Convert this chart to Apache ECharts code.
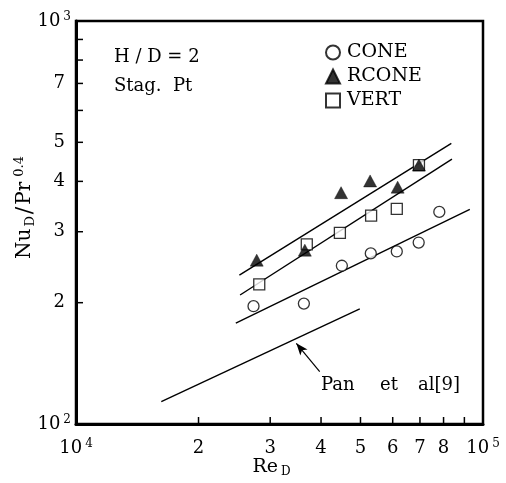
<!DOCTYPE html>
<html>
<head>
<meta charset="utf-8">
<script src="https://cdn.jsdelivr.net/npm/echarts@6/dist/echarts.min.js"></script>
<style>
  html, body { margin: 0; padding: 0; background: #fff; }
  #chart { width: 506px; height: 483px; }
</style>
</head>
<body>
<div id="chart"></div>
<script>
// Stagnation-point heat transfer, H/D = 2
const reCone  = [27300, 36300, 45000, 53000, 61400, 69500, 78100];
const nuCone  = [196, 199, 247, 265, 268, 282, 336];
const reRcone = [27800, 36500, 44800, 52800, 61700, 69600];
const nuRcone = [255, 270, 375, 401, 387, 439];
const reVert  = [28200, 36900, 44500, 53100, 61400, 69600];
const nuVert  = [222, 279, 298, 329, 342, 439];

// correlation lines (power laws, straight on log-log)
const reFitRcone = [25200, 83600];
const nuFitRcone = [234, 497];
const reFitVert  = [25300, 83900];
const nuFitVert  = [209, 454];
const reFitCone  = [24700, 92800];
const nuFitCone  = [178, 341];
const rePan      = [16200, 49800];
const nuPan      = [113.6, 193];

// arrow pointing at the Pan et al. line
const arrowRe = [39700, 34780];
const arrowNu = [134.8, 158.6];

// ticks and labelled values
const xTicks  = [20000, 30000, 40000, 50000, 60000, 70000, 80000, 90000];
const xLabels = [10000, 20000, 30000, 40000, 50000, 60000, 70000, 80000, 100000];
const yTicks  = [200, 300, 400, 500, 600, 700, 800, 900];
const yLabels = [100, 200, 300, 400, 500, 700, 1000];

const X_MIN = 10000, X_MAX = 100000, Y_MIN = 100, Y_MAX = 1000;
const FONT = 'DejaVu Serif';
const pairs = (xs, ys) => xs.map((x, i) => [x, ys[i]]);

function tickText(v, padRight) {
  const p = Math.log10(v);
  if (Math.abs(p - Math.round(p)) < 1e-9) {
    return '{n|10}{s|' + Math.round(p) + '}';
  }
  const lead = Math.round(v / Math.pow(10, Math.floor(p)));
  return padRight ? '{d|' + lead + '}' : '{n|' + lead + '}';
}

const labelRich = {
  n: { fontFamily: FONT, fontSize: 18, color: '#000', lineHeight: 20 },
  d: { fontFamily: FONT, fontSize: 18, color: '#000', lineHeight: 20, padding: [0, 6, 0, 0] },
  s: { fontFamily: FONT, fontSize: 12, color: '#000', verticalAlign: 'top', lineHeight: 12, padding: [0, 0, 0, 3] }
};

const lineStyle = { color: '#000', width: 1.4 };
const fitLine = (name, xs, ys) => ({
  name: name, type: 'line', data: pairs(xs, ys), showSymbol: false,
  symbol: 'none', lineStyle: lineStyle, silent: true, z: 2
});

// inward tick marks along the bottom (dir 'x') or left (dir 'y') frame edge
const TICK_LEN = 7;
const tickSeries = (dir, values) => ({
  type: 'custom', silent: true, clip: false, z: 8,
  data: values.map(v => dir === 'x' ? [v, Y_MIN] : [X_MIN, v]),
  renderItem: (params, api) => {
    const p = api.coord([api.value(0), api.value(1)]);
    const shape = dir === 'x'
      ? { x1: p[0], y1: p[1], x2: p[0], y2: p[1] - TICK_LEN }
      : { x1: p[0], y1: p[1], x2: p[0] + TICK_LEN, y2: p[1] };
    return { type: 'line', shape: shape, style: { stroke: '#000', lineWidth: 1.5 } };
  }
});

const chart = echarts.init(document.getElementById('chart'), null, { renderer: 'canvas' });
chart.setOption({
  animation: false,
  backgroundColor: '#fff',
  grid: {
    left: 76, right: 23, top: 21, bottom: 59, containLabel: false, outerBoundsMode: 'none',
    show: true, borderColor: '#000', borderWidth: 2.5, backgroundColor: 'transparent'
  },
  xAxis: {
    type: 'log', logBase: 10, min: X_MIN, max: X_MAX,
    name: '{n|Re}{sub|D}', nameLocation: 'middle', nameGap: 32, nameMoveOverlap: false,
    nameTextStyle: {
      padding: [0, 16, 0, 0],
      rich: {
        n: { fontFamily: FONT, fontSize: 19, color: '#000', lineHeight: 22 },
        sub: { fontFamily: FONT, fontSize: 12, color: '#000', verticalAlign: 'bottom', lineHeight: 12, padding: [0, 0, 0, 3] }
      }
    },
    axisLine: { show: true, lineStyle: { color: '#000', width: 3 } },
    axisTick: { show: false },
    axisLabel: { margin: 14, customValues: xLabels, formatter: v => tickText(v, false), rich: labelRich },
    minorTick: { show: false },
    splitLine: { show: false }
  },
  yAxis: {
    type: 'log', logBase: 10, min: Y_MIN, max: Y_MAX,
    name: '{n|Nu}{sub|D}{sl|/}{n|Pr}{sup|0.4}', nameLocation: 'middle', nameGap: 39, nameRotate: 90,
    nameMoveOverlap: false,
    nameTextStyle: {
      padding: [0, 0, 0, 30],
      rich: {
        n: { fontFamily: FONT, fontSize: 20, color: '#000', lineHeight: 24 },
        sl: { fontFamily: FONT, fontSize: 22, color: '#000', lineHeight: 24, padding: [0, 2, 0, 2] },
        sub: { fontFamily: FONT, fontSize: 13, color: '#000', verticalAlign: 'bottom', lineHeight: 13, padding: [0, 0, 0, 2] },
        sup: { fontFamily: FONT, fontSize: 13, color: '#000', verticalAlign: 'top', lineHeight: 13, padding: [0, 0, 0, 5] }
      }
    },
    axisLine: { show: true, lineStyle: { color: '#000', width: 3 } },
    axisTick: { show: false },
    axisLabel: { margin: 5, customValues: yLabels, formatter: v => tickText(v, true), rich: labelRich },
    minorTick: { show: false },
    splitLine: { show: false }
  },
  legend: {
    data: ['CONE', 'RCONE', 'VERT'],
    orient: 'vertical', left: 325, top: 43, padding: 0,
    itemWidth: 14, itemHeight: 14, itemGap: 5,
    textStyle: { fontFamily: FONT, fontSize: 19, color: '#000', padding: [0, 0, 0, 2] },
    selectedMode: false
  },
  series: [
    tickSeries('x', xTicks),
    tickSeries('y', yTicks),
    fitLine('fitRcone', reFitRcone, nuFitRcone),
    fitLine('fitVert', reFitVert, nuFitVert),
    fitLine('fitCone', reFitCone, nuFitCone),
    Object.assign(fitLine('pan', rePan, nuPan), {
      markLine: {
        silent: true, symbol: ['none', 'arrow'], symbolSize: [7, 12],
        lineStyle: { color: '#000', width: 1.2, type: 'solid' },
        label: { show: false },
        data: [[{ coord: [arrowRe[0], arrowNu[0]] }, { coord: [arrowRe[1], arrowNu[1]] }]]
      }
    }),
    {
      name: 'CONE', type: 'scatter', symbol: 'circle', symbolSize: 11, z: 5,
      itemStyle: { color: '#fff', borderColor: '#000', borderWidth: 1.3 },
      data: pairs(reCone, nuCone)
    },
    {
      name: 'VERT', type: 'scatter', symbol: 'rect', symbolSize: 11, z: 5,
      itemStyle: { color: '#fff', borderColor: '#000', borderWidth: 1.3 },
      data: pairs(reVert, nuVert)
    },
    {
      name: 'RCONE', type: 'scatter', symbol: 'triangle', symbolSize: [13, 12], z: 6,
      itemStyle: { color: '#000', borderColor: '#000', borderWidth: 0.5 },
      data: pairs(reRcone, nuRcone)
    }
  ],
  graphic: [
    { type: 'text', left: 114, top: 48, style: { text: 'H / D = 2', font: '18px "DejaVu Serif"', fill: '#000' } },
    { type: 'text', left: 114, top: 77, style: { text: 'Stag.  Pt', font: '18px "DejaVu Serif"', fill: '#000' } },
    { type: 'text', left: 321, top: 376, style: { text: 'Pan', font: '18px "DejaVu Serif"', fill: '#000' } },
    { type: 'text', left: 380, top: 376, style: { text: 'et', font: '18px "DejaVu Serif"', fill: '#000' } },
    { type: 'text', left: 418, top: 376, style: { text: 'al[9]', font: '18px "DejaVu Serif"', fill: '#000' } }
  ]
});
</script>
</body>
</html>
